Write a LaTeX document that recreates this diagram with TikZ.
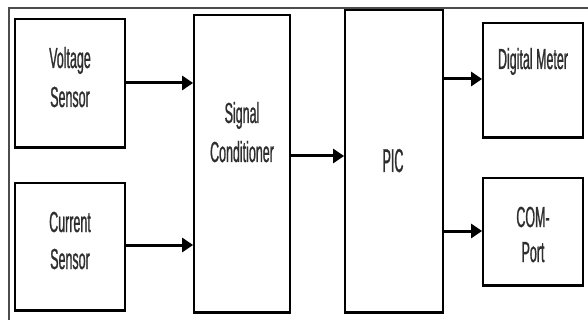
\documentclass[tikz,border=0pt]{standalone}
\usepackage{fontspec}
\setmainfont{Liberation Sans}[FakeStretch=0.43,FakeBold=0.8]
\newfontfamily\picfont{Liberation Sans}[FakeStretch=0.38,FakeBold=0.8]
\usetikzlibrary{arrows.meta}
\definecolor{txt}{HTML}{2E2E2E}
\begin{document}
\begin{tikzpicture}[x=1pt,y=-1pt,
  blk/.style={draw=black,line width=1.8pt,rectangle,inner sep=0pt},
  lbl/.style={text=txt,font=\fontsize{29}{38}\selectfont,align=center,anchor=base,inner sep=0pt},
  arr/.style={line width=3pt,-{Triangle[length=11pt,width=14pt]},shorten >=0pt},
  frame/.style={draw=black!70,line width=1.4pt}]
\useasboundingbox (0,0) rectangle (588,320);
\fill[white] (0,0) rectangle (588,320);
% outer frame (top and left)
\coordinate (ftl) at (9,8);
\coordinate (ftr) at (588,8);
\coordinate (fbl) at (9,320);
\draw[frame] (ftr) -- (ftl) -- (fbl);
% boxes
\node[blk,minimum width=110pt,minimum height=128pt] (vs) at (70,83) {};
\node[blk,minimum width=110pt,minimum height=127pt] (cs) at (70,246.5) {};
\node[blk,minimum width=96pt,minimum height=297pt] (sc) at (242,163.5) {};
\node[blk,minimum width=98pt,minimum height=302pt] (pic) at (394,161) {};
\node[blk,minimum width=100pt,minimum height=114pt] (dm) at (533,80) {};
\node[blk,minimum width=100pt,minimum height=107pt] (com) at (533,231.5) {};
% thicker bottom edges
\foreach \b in {vs,cs,sc,pic,dm,com}
  \draw[line width=3pt] ([yshift=0.6pt]\b.south west) -- ([yshift=0.6pt]\b.south east);
% labels
\node[lbl] (vst) at (70,68) {Voltage};
\node[lbl] (vsb) at (70,107) {Sensor};
\node[lbl] (cst) at (70,232) {Current};
\node[lbl] (csb) at (70,269) {Sensor};
\node[lbl] (sct) at (242,123) {Signal};
\node[lbl] (scb) at (242,162) {Conditioner};
\node[lbl,font=\picfont\fontsize{33}{38}\selectfont] (pict) at (393,172) {PIC};
\node[lbl] (dmt) at (533,69) {Digital Meter};
\node[lbl] (comt) at (533,227) {COM-};
\node[lbl] (comb) at (533,262) {Port};
% arrows
\draw[arr] (vs.east) -- (vs.east -| sc.west);
\draw[arr] ([yshift=1.5pt]cs.east) -- ([yshift=1.5pt]cs.east -| sc.west);
\draw[arr] ([yshift=7.5pt]sc.east) -- ([yshift=7.5pt]sc.east -| pic.west);
\draw[arr] ([yshift=1pt]dm.west -| pic.east) -- ([yshift=1pt]dm.west);
\draw[arr] ([yshift=0.5pt]com.west -| pic.east) -- ([yshift=0.5pt]com.west);
\end{tikzpicture}
\end{document}
